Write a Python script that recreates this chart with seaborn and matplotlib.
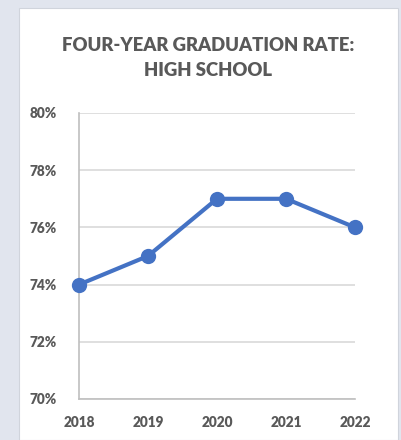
import matplotlib
matplotlib.use("Agg")
import matplotlib.pyplot as plt
from matplotlib.patches import Rectangle
from matplotlib.ticker import FuncFormatter
import seaborn as sns
import pandas as pd

# data
years = [2018, 2019, 2020, 2021, 2022]
rates = [74, 75, 77, 77, 76]

df = pd.DataFrame({"year": years, "rate": rates})

sns.set_style("white")
plt.rcParams["font.family"] = ["Lato", "DejaVu Sans"]
plt.rcParams["font.weight"] = "heavy"

W, H = 401, 440
fig = plt.figure(figsize=(W / 100, H / 100), dpi=100)
fig.patch.set_facecolor("#e1e5ee")

# white card behind everything
fig.patches.append(Rectangle((19 / W, 0), (398 - 19) / W, (440 - 8) / H,
                             transform=fig.transFigure, facecolor="white",
                             edgecolor="#d0d4dc", linewidth=0.8, zorder=-10))

ax = fig.add_axes([79 / W, (H - 399) / H, (355 - 79) / W, (399 - 113) / H])
ax.patch.set_alpha(0)

sns.lineplot(data=df, x="year", y="rate", ax=ax, color="#4472c4",
             linewidth=3, marker="o", markersize=11, markeredgewidth=0,
             clip_on=False, zorder=5)

ax.set_xlim(years[0], years[-1])
ax.set_ylim(70, 80)
ax.set_xticks(years)
ax.set_yticks(range(70, 81, 2))
ax.yaxis.set_major_formatter(FuncFormatter(lambda v, p: f"{v:.0f}%"))
ax.grid(axis="y", color="#d9d9d9", linewidth=1.2)
ax.grid(axis="x", visible=False)
ax.set_axisbelow(True)

for s in ["top", "right"]:
    ax.spines[s].set_visible(False)
for s in ["left", "bottom"]:
    ax.spines[s].set_color("#bfbfbf")
    ax.spines[s].set_linewidth(1.2)

ax.tick_params(axis="both", length=0, labelsize=9.8, labelcolor="#595959")
ax.tick_params(axis="y", pad=16)
ax.tick_params(axis="x", pad=12)
ax.set_xlabel("")
ax.set_ylabel("")

fig.text(208 / W, 1 - 58 / H, "FOUR-YEAR GRADUATION RATE:\nHIGH SCHOOL",
         ha="center", va="center", fontsize=13.3, fontweight="heavy",
         color="#595959", linespacing=1.6)

fig.savefig("out.png", dpi=100)
